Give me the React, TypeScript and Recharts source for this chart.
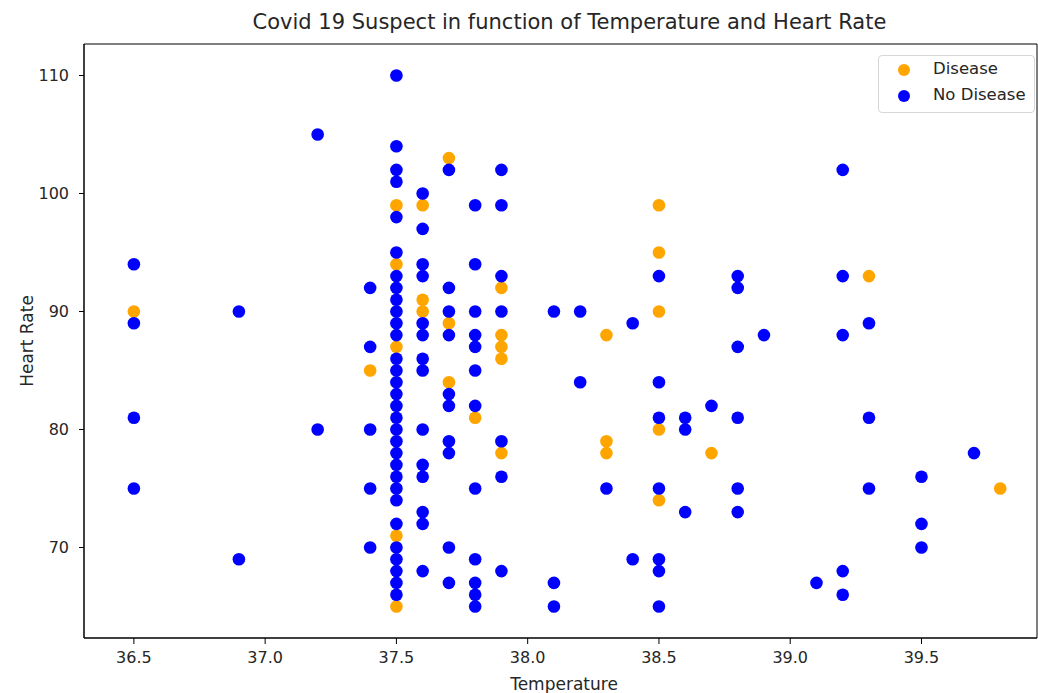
import React from "react";
import {
  ScatterChart,
  Scatter,
  XAxis,
  YAxis,
  ReferenceArea,
} from "recharts";

// [temperature, heart rate]
const diseasePoints: [number, number][] = [
  [36.5, 90],
  [37.4, 85],
  [37.5, 99], [37.5, 94], [37.5, 87], [37.5, 71], [37.5, 65],
  [37.6, 99], [37.6, 91], [37.6, 90],
  [37.7, 103], [37.7, 89], [37.7, 84],
  [37.8, 81],
  [37.9, 92], [37.9, 88], [37.9, 87], [37.9, 86], [37.9, 78],
  [38.3, 88], [38.3, 79], [38.3, 78],
  [38.5, 99], [38.5, 95], [38.5, 90], [38.5, 80], [38.5, 74],
  [38.7, 78],
  [39.3, 93],
  [39.8, 75],
];

const noDiseasePoints: [number, number][] = [
  [36.5, 94], [36.5, 89], [36.5, 81], [36.5, 75],
  [36.9, 90], [36.9, 69],
  [37.2, 105], [37.2, 80],
  [37.4, 92], [37.4, 87], [37.4, 80], [37.4, 75], [37.4, 70],
  [37.5, 110], [37.5, 104], [37.5, 102], [37.5, 101], [37.5, 98], [37.5, 95],
  [37.5, 93], [37.5, 92], [37.5, 91], [37.5, 90], [37.5, 89], [37.5, 88],
  [37.5, 86], [37.5, 85], [37.5, 84], [37.5, 83], [37.5, 82], [37.5, 81],
  [37.5, 80], [37.5, 79], [37.5, 78], [37.5, 77], [37.5, 76], [37.5, 75],
  [37.5, 74], [37.5, 72], [37.5, 70], [37.5, 69], [37.5, 68], [37.5, 67],
  [37.5, 66],
  [37.6, 100], [37.6, 97], [37.6, 94], [37.6, 93], [37.6, 89], [37.6, 88],
  [37.6, 86], [37.6, 85], [37.6, 80], [37.6, 77], [37.6, 76], [37.6, 73],
  [37.6, 72], [37.6, 68],
  [37.7, 102], [37.7, 92], [37.7, 90], [37.7, 88], [37.7, 83], [37.7, 82],
  [37.7, 79], [37.7, 78], [37.7, 70], [37.7, 67],
  [37.8, 99], [37.8, 94], [37.8, 90], [37.8, 88], [37.8, 87], [37.8, 85],
  [37.8, 82], [37.8, 75], [37.8, 69], [37.8, 67], [37.8, 66], [37.8, 65],
  [37.9, 102], [37.9, 99], [37.9, 93], [37.9, 90], [37.9, 79], [37.9, 76],
  [37.9, 68],
  [38.1, 90], [38.1, 67], [38.1, 65],
  [38.2, 90], [38.2, 84],
  [38.3, 75],
  [38.4, 89], [38.4, 69],
  [38.5, 93], [38.5, 84], [38.5, 81], [38.5, 75], [38.5, 69], [38.5, 68],
  [38.5, 65],
  [38.6, 81], [38.6, 80], [38.6, 73],
  [38.7, 82],
  [38.8, 93], [38.8, 92], [38.8, 87], [38.8, 81], [38.8, 75], [38.8, 73],
  [38.9, 88],
  [39.1, 67],
  [39.2, 102], [39.2, 93], [39.2, 88], [39.2, 68], [39.2, 66],
  [39.3, 89], [39.3, 81], [39.3, 75],
  [39.5, 76], [39.5, 72], [39.5, 70],
  [39.7, 78],
];

const xTicks = [36.5, 37.0, 37.5, 38.0, 38.5, 39.0, 39.5];
const yTicks = [70, 80, 90, 100, 110];
const xDomain: [number, number] = [36.31, 39.94];
const yDomain: [number, number] = [62.33, 112.67];
const legendItems = ["Disease", "No Disease"];

const ORANGE = "#FFA500";
const BLUE = "#0000FF";
const FONT = "'DejaVu Sans', sans-serif";
const TEXT = "#262626";

const toRows = (pts: [number, number][]) =>
  pts.map(([t, h]) => ({ temperature: t, heartRate: h }));

const diseaseData = toRows(diseasePoints);
const noDiseaseData = toRows(noDiseasePoints);

const dot = (color: string) => (props: any) => {
  const { cx, cy } = props;
  if (cx == null || cy == null) return <g />;
  return <circle cx={cx} cy={cy} r={6.3} fill={color} />;
};

const LegendBox = () => (
  <div
    style={{
      position: "absolute",
      left: 878,
      top: 55,
      width: 157,
      height: 58,
      boxSizing: "border-box",
      border: "1px solid #d6d6d6",
      borderRadius: 4,
      background: "rgba(255,255,255,0.8)",
      fontFamily: FONT,
      fontSize: 16.5,
      color: TEXT,
    }}
  >
    {legendItems.map((name, i) => {
      const top = 14 + i * 26;
      const color = i === 0 ? ORANGE : BLUE;
      return (
        <div key={name}>
          <div
            style={{
              position: "absolute",
              left: 19,
              top: top - 6,
              width: 12,
              height: 12,
              borderRadius: 6,
              background: color,
            }}
          />
          <div
            style={{
              position: "absolute",
              left: 54,
              top: top - 11,
              lineHeight: "20px",
              whiteSpace: "nowrap",
            }}
          >
            {name}
          </div>
        </div>
      );
    })}
  </div>
);

export default function App() {
  return (
    <div
      style={{
        position: "absolute",
        left: 0,
        top: 0,
        width: 1038,
        height: 693,
        background: "#fff",
        fontFamily: FONT,
        overflow: "hidden",
      }}
    >
      <ScatterChart
        width={1038}
        height={693}
        margin={{ top: 44, right: 1, bottom: 25, left: 24 }}
        style={{ position: "absolute", left: 0, top: 0 }}
      >
        <XAxis
          type="number"
          dataKey="temperature"
          domain={xDomain}
          ticks={xTicks}
          allowDataOverflow
          height={30}
          tickFormatter={(v: number) => v.toFixed(1)}
          tick={{ fontSize: 16, fill: TEXT, fontFamily: FONT }}
          tickSize={6}
          tickMargin={8}
          tickLine={{ stroke: "#000" }}
          axisLine={{ stroke: "#000" }}
          interval={0}
        />
        <YAxis
          type="number"
          dataKey="heartRate"
          domain={yDomain}
          ticks={yTicks}
          allowDataOverflow
          width={60}
          tick={{ fontSize: 16, fill: TEXT, fontFamily: FONT }}
          tickSize={5}
          tickMargin={10}
          tickLine={{ stroke: "#000" }}
          axisLine={{ stroke: "#000" }}
          interval={0}
        />
        <ReferenceArea
          x1={xDomain[0]}
          x2={xDomain[1]}
          y1={yDomain[0]}
          y2={yDomain[1]}
          fill="none"
          stroke="#000"
          strokeWidth={1}
          ifOverflow="visible"
        />
        <Scatter
          name="Disease"
          data={diseaseData}
          fill={ORANGE}
          shape={dot(ORANGE)}
          isAnimationActive={false}
        />
        <Scatter
          name="No Disease"
          data={noDiseaseData}
          fill={BLUE}
          shape={dot(BLUE)}
          isAnimationActive={false}
        />
      </ScatterChart>
      <div
        style={{
          position: "absolute",
          left: 0,
          width: 1139,
          top: 9,
          textAlign: "center",
          fontSize: 21,
          color: TEXT,
          lineHeight: "26px",
          whiteSpace: "nowrap",
        }}
      >
        Covid 19 Suspect in function of Temperature and Heart Rate
      </div>
      <div
        style={{
          position: "absolute",
          left: 0,
          width: 1128,
          top: 673,
          textAlign: "center",
          fontSize: 17,
          color: TEXT,
          lineHeight: "22px",
        }}
      >
        Temperature
      </div>
      <div
        style={{
          position: "absolute",
          left: 27,
          top: 341,
          transform: "translate(-50%, -50%) rotate(-90deg)",
          fontSize: 17,
          color: TEXT,
          whiteSpace: "nowrap",
          lineHeight: "22px",
        }}
      >
        Heart Rate
      </div>
      <LegendBox />
    </div>
  );
}
